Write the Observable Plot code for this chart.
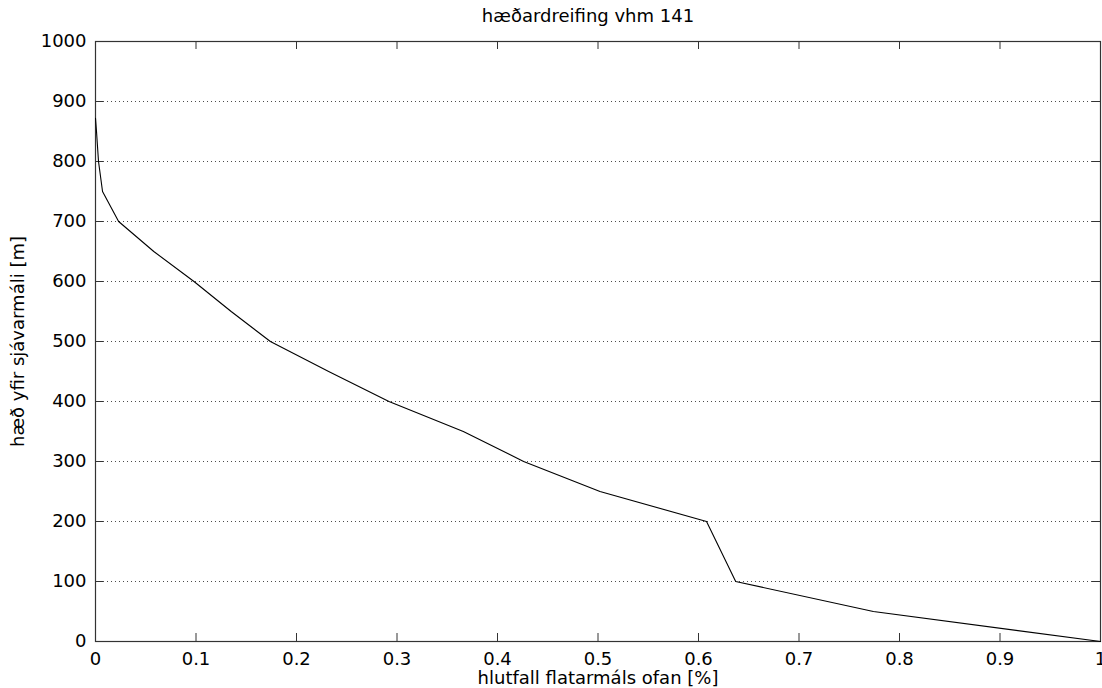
<!DOCTYPE html>
<html>
<head>
<meta charset="utf-8">
<script src="https://cdn.jsdelivr.net/npm/d3@7"></script>
<script src="https://cdn.jsdelivr.net/npm/@observablehq/plot@0.6"></script>
<style>
  html, body { margin: 0; padding: 0; background: #fff; }
  #chart svg { display: block; }
</style>
</head>
<body>
<div id="chart"></div>
<script>
// Elevation (m) and fraction of area above that elevation
const elevations = [0, 50, 100, 200, 250, 300, 350, 400, 450, 500, 550, 600, 650, 700, 750, 800, 850, 872];
const fractionAbove = [1.0, 0.774, 0.637, 0.608, 0.502, 0.426, 0.366, 0.292, 0.232, 0.174, 0.135, 0.098, 0.058, 0.023, 0.007, 0.003, 0.001, 0.0];

const xTicks = [0, 0.1, 0.2, 0.3, 0.4, 0.5, 0.6, 0.7, 0.8, 0.9, 1];
const yTicks = [0, 100, 200, 300, 400, 500, 600, 700, 800, 900, 1000];
const gridTicks = [100, 200, 300, 400, 500, 600, 700, 800, 900];

const titleText = "hæðardreifing vhm 141";
const xLabel = "hlutfall flatarmáls ofan [%]";
const yLabel = "hæð yfir sjávarmáli [m]";

const data = elevations.map((e, i) => ({elev: e, frac: fractionAbove[i]}));

const W = 1102, H = 688;
const mL = 95, mR = 2, mT = 41, mB = 47;
const tick = 8;
const font = "DejaVu Sans, Liberation Sans, sans-serif";

const chart = Plot.plot({
  width: W,
  height: H,
  marginLeft: mL,
  marginRight: mR,
  marginTop: mT,
  marginBottom: mB,
  style: {fontFamily: font, fontSize: "18px", color: "#000", background: "#fff"},
  x: {domain: [0, 1], ticks: xTicks, tickSize: 0, tickPadding: 11, tickFormat: d => String(d), label: null},
  y: {domain: [0, 1000], ticks: yTicks, tickSize: 0, tickPadding: 9, tickFormat: d => String(d), label: null},
  marks: [
    Plot.ruleY(gridTicks, {y: d => d, stroke: "#000", strokeOpacity: 0.7, strokeWidth: 1, strokeDasharray: "1,3"}),
    // inward tick marks: bottom, top, left, right
    Plot.ruleX(xTicks, {x: d => d, y1: 0, y2: 0, insetTop: -tick, stroke: "#333"}),
    Plot.ruleX(xTicks, {x: d => d, y1: 1000, y2: 1000, insetBottom: -tick, stroke: "#333"}),
    Plot.ruleY(yTicks, {y: d => d, x1: 0, x2: 0, insetRight: -tick, stroke: "#333"}),
    Plot.ruleY(yTicks, {y: d => d, x1: 1, x2: 1, insetLeft: -tick, stroke: "#333"}),
    Plot.frame({stroke: "#333", strokeWidth: 1.2}),
    Plot.line(data, {x: "frac", y: "elev", stroke: "#000", strokeWidth: 1.1}),
    Plot.text([titleText], {frameAnchor: "top", lineAnchor: "middle", dy: -25, dx: -10, fontSize: 18, fill: "#000"}),
    Plot.text([xLabel], {frameAnchor: "bottom", lineAnchor: "middle", dy: 37, fontSize: 18, fill: "#000"}),
    Plot.text([yLabel], {frameAnchor: "left", textAnchor: "middle", lineAnchor: "middle", dx: -77, rotate: -90, fontSize: 18, fill: "#000"})
  ]
});
document.getElementById("chart").appendChild(chart);
</script>
</body>
</html>
